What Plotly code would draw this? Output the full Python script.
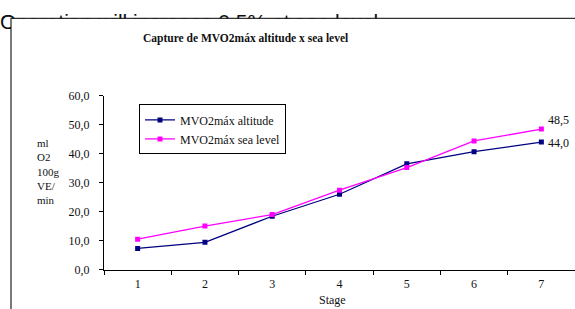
import plotly.graph_objects as go

# ---- data ----
stages = ["1", "2", "3", "4", "5", "6", "7"]
altitude = [7.3, 9.4, 18.4, 26.0, 36.5, 40.7, 44.0]
sea_level = [10.5, 15.0, 19.0, 27.4, 35.2, 44.4, 48.5]
y_ticks = [0, 10, 20, 30, 40, 50, 60]
y_title_lines = ["ml", "O2", "100g", "VE/", "min"]
chart_title = "Capture de MVO2máx altitude x sea level"
x_title = "Stage"
bg_text = "Operation will increase 0.5% at sea level"

W, H = 575, 309
SERIF = "Liberation Serif, Times New Roman, serif"
NAVY = "#000080"
MAGENTA = "#FF00FF"
TXT = "#111"

def px_x(x):
    return x / W

def px_y(y):
    return 1 - y / H

fig = go.Figure()

# background document text, clipped by the chart frame (top strip + left strip)
for xa, ya in (("x2", "y2"), ("x3", "y3")):
    fig.add_trace(go.Scatter(
        x=[0], y=[18], mode="text", text=[bg_text], textposition="middle right",
        textfont=dict(family="Liberation Sans, Arial, sans-serif", size=21, color="#111"),
        cliponaxis=True, showlegend=False, hoverinfo="skip", xaxis=xa, yaxis=ya))

fig.add_trace(go.Scatter(
    x=stages, y=altitude, mode="lines+markers", name="MVO2máx altitude",
    line=dict(color=NAVY, width=1.3), marker=dict(symbol="square", size=5, color=NAVY)))
fig.add_trace(go.Scatter(
    x=stages, y=sea_level, mode="lines+markers", name="MVO2máx sea level",
    line=dict(color=MAGENTA, width=1.3), marker=dict(symbol="square", size=5, color=MAGENTA)))

annotations = [
    dict(text="<b>" + chart_title + "</b>", x=px_x(245), y=px_y(33), xref="paper", yref="paper",
         xanchor="center", yanchor="middle", showarrow=False,
         font=dict(family=SERIF, size=11.5, color=TXT)),
    dict(text=x_title, x=px_x(332), y=px_y(306.5), xref="paper", yref="paper",
         xanchor="center", yanchor="middle", showarrow=False,
         font=dict(family=SERIF, size=12, color=TXT)),
    dict(text=f"{sea_level[-1]:.1f}".replace(".", ","), x=len(stages) - 1, y=sea_level[-1],
         xref="x", yref="y", xanchor="left", yanchor="middle", xshift=5, yshift=9,
         showarrow=False, font=dict(family=SERIF, size=12, color=TXT)),
    dict(text=f"{altitude[-1]:.1f}".replace(".", ","), x=len(stages) - 1, y=altitude[-1],
         xref="x", yref="y", xanchor="left", yanchor="middle", xshift=5, yshift=-1,
         showarrow=False, font=dict(family=SERIF, size=12, color=TXT)),
    dict(text="<br>".join(y_title_lines), x=px_x(35), y=px_y(172), xref="paper",
         yref="paper", xanchor="left", yanchor="middle", align="left", showarrow=False,
         font=dict(family=SERIF, size=11, color=TXT)),
]

fig.update_layout(
    width=W, height=H,
    margin=dict(l=0, r=0, t=0, b=0),
    paper_bgcolor="white", plot_bgcolor="rgba(0,0,0,0)",
    separators=",.",
    showlegend=True,
    legend=dict(x=px_x(139), y=px_y(102), xanchor="left", yanchor="top",
                bgcolor="white", bordercolor="black", borderwidth=1,
                font=dict(family=SERIF, size=12, color=TXT),
                tracegroupgap=0, itemwidth=30, entrywidth=138),
    xaxis=dict(domain=[px_x(104), 1], type="category", tickson="boundaries",
               range=[-0.5, len(stages) - 0.5],
               showline=True, linecolor="black", linewidth=1,
               ticks="outside", ticklen=4, tickcolor="black", ticklabelstandoff=3,
               showgrid=False, zeroline=False,
               tickfont=dict(family=SERIF, size=12, color=TXT)),
    yaxis=dict(domain=[px_y(275), px_y(93)], range=[0, 60], tickvals=y_ticks,
               tickformat=".1f", showline=True, linecolor="black", linewidth=1,
               ticks="outside", ticklen=4, tickcolor="black", ticklabelstandoff=7,
               showgrid=False, zeroline=False,
               tickfont=dict(family=SERIF, size=12, color=TXT)),
    xaxis2=dict(domain=[0, 1], range=[0, W], visible=False, anchor="y2"),
    yaxis2=dict(domain=[px_y(12), 1], range=[12, 0], visible=False, anchor="x2"),
    xaxis3=dict(domain=[0, px_x(11)], range=[0, 11], visible=False, anchor="y3"),
    yaxis3=dict(domain=[0, 1], range=[H, 0], visible=False, anchor="x3"),
    annotations=annotations,
    shapes=[dict(type="rect", xref="paper", yref="paper",
                 x0=px_x(11), x1=1.2, y0=-0.2, y1=px_y(12),
                 line=dict(color="#333", width=1.3), fillcolor="rgba(0,0,0,0)", layer="below")],
)

fig.write_html("out.html", config={"displayModeBar": False},
               post_script="document.body.style.margin='0';document.body.style.overflow='hidden';")
